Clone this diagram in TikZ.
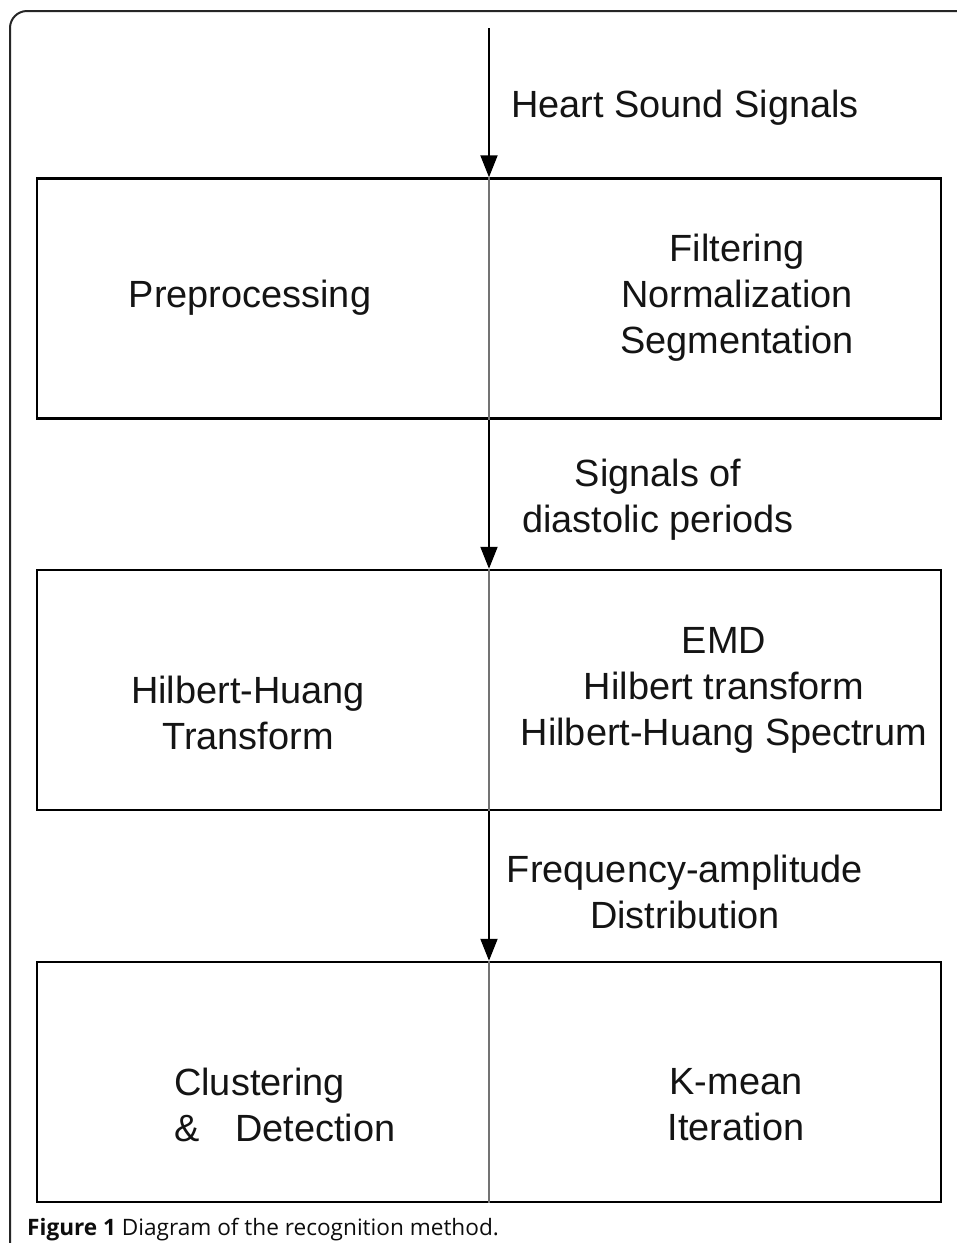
\documentclass[tikz,border=0pt]{standalone}
\usepackage{fontspec}
\setmainfont{Liberation Sans}
\newfontfamily\capfont{Open Sans}
\usetikzlibrary{arrows.meta}
\tikzset{
  box/.style={draw=black, line width=2.5pt, minimum width=904pt, minimum height=240pt, inner sep=0pt},
  divider/.style={draw=black!55, line width=1.4pt},
  arr/.style={draw=black, line width=2pt, -{Triangle[length=22pt,width=17pt]}},
  lbl/.style={font=\fontsize{37.9}{46}\selectfont, align=center, inner sep=0pt, text=black!92},
  frame/.style={draw=black!85, line width=2pt, rounded corners=17pt},
}
\begin{document}
\begin{tikzpicture}[x=1pt,y=-1pt]
\useasboundingbox (0,0) rectangle (957,1243);
\fill[white] (0,0) rectangle (957,1243);
\draw[frame] (10,1250) -- (10,11) -- (965,11);
% boxes
\node[box] (b1) at (489,298.5) {};
\node[box] (b2) at (489,690) {};
\node[box] (b3) at (489,1082) {};
\draw[divider] (b1.north) -- (b1.south);
\draw[divider] (b2.north) -- (b2.south);
\draw[divider] (b3.north) -- (b3.south);
% arrows
\coordinate (in) at (489,28);
\draw[arr] (in) -- (b1.north);
\draw[arr] (b1.south) -- (b2.north);
\draw[arr] (b2.south) -- (b3.north);
% arrow labels
\node[lbl] (l0) at (685,108) {Heart Sound Signals};
\node[lbl] (l1) at (658,500) {Signals of\\diastolic periods};
\node[lbl] (l2) at (685,892) {Frequency-amplitude\\Distribution};
% box texts
\node[lbl] (p1) at (250,298) {Preprocessing};
\node[lbl] (q1) at (737,298) {Filtering\\Normalization\\Segmentation};
\node[lbl] (p2) at (248,713) {Hilbert-Huang\\Transform};
\node[lbl] (q2) at (724,690) {EMD\\Hilbert transform\\Hilbert-Huang Spectrum};
\node[lbl, align=left, anchor=west] (p3) at (174,1105) {Clustering\\\&\hspace{0.95em}Detection};
\node[lbl] (q3) at (736,1105) {K-mean\\Iteration};
% caption
\node[anchor=base west, inner sep=0pt, font=\capfont\fontsize{22.6}{26}\selectfont, text=black!95] (cap) at (27,1235) {\textbf{Figure 1} Diagram of the recognition method.};
\end{tikzpicture}
\end{document}
